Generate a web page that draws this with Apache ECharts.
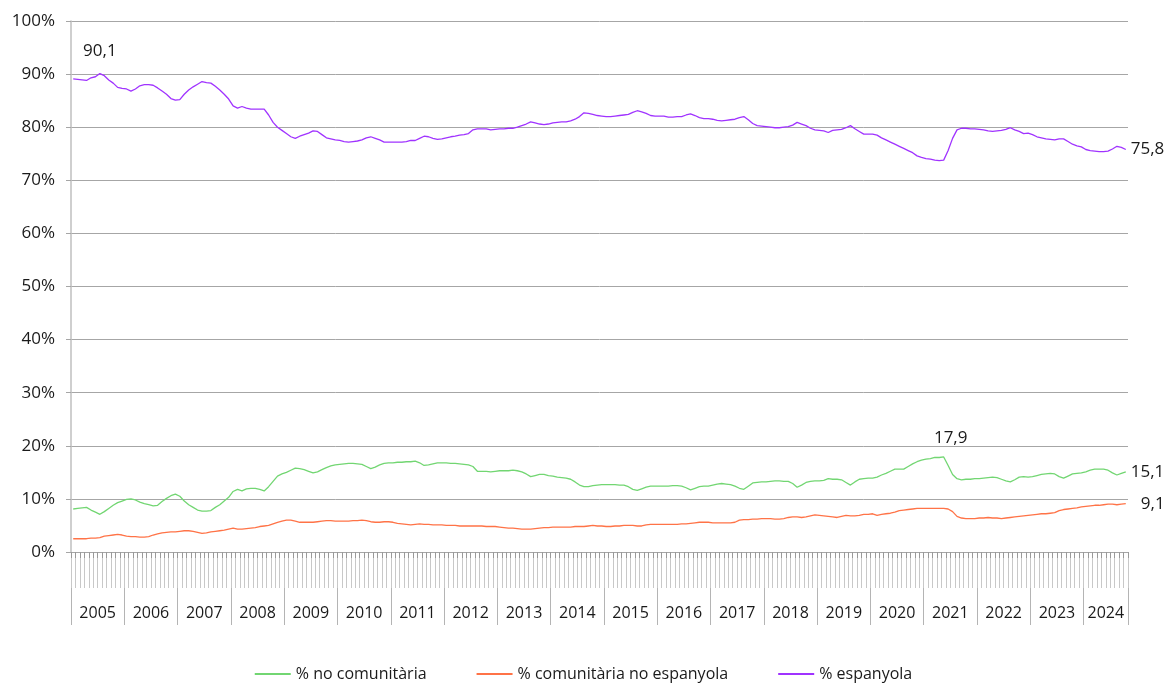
<!DOCTYPE html>
<html>
<head>
<meta charset="utf-8">
<script src="https://cdn.jsdelivr.net/npm/echarts@6/dist/echarts.min.js"></script>
<style>
  html, body { margin: 0; padding: 0; background: #fff; }
  #chart { width: 1167px; height: 684px; }
</style>
</head>
<body>
<div id="chart"></div>
<script>
// years on the axis and how many monthly points each one has
const years = ['2005', '2006', '2007', '2008', '2009', '2010', '2011', '2012', '2013', '2014',
               '2015', '2016', '2017', '2018', '2019', '2020', '2021', '2022', '2023', '2024'];
const monthsPerYear = [12, 12, 12, 12, 12, 12, 12, 12, 12, 12, 12, 12, 12, 12, 12, 12, 12, 12, 12, 10];

const yTicks = [0, 10, 20, 30, 40, 50, 60, 70, 80, 90, 100];

// % no comunitària
const noComunitaria = [
  8.1, 8.2, 8.3, 8.4, 7.9, 7.5, 7.1, 7.6, 8.2, 8.8, 9.3, 9.6,
  9.9, 10.0, 9.8, 9.4, 9.1, 8.9, 8.7, 8.8, 9.5, 10.1, 10.6, 10.9,
  10.5, 9.6, 8.9, 8.4, 7.9, 7.7, 7.7, 7.8, 8.4, 8.9, 9.6, 10.3,
  11.4, 11.8, 11.5, 11.9, 12.0, 12.0, 11.8, 11.5, 12.3, 13.3, 14.3, 14.7,
  15.0, 15.4, 15.8, 15.7, 15.5, 15.2, 14.9, 15.1, 15.5, 15.9, 16.2, 16.4,
  16.5, 16.6, 16.7, 16.7, 16.6, 16.5, 16.1, 15.7, 16.0, 16.4, 16.7, 16.8,
  16.8, 16.9, 16.9, 17.0, 17.0, 17.1, 16.8, 16.3, 16.4, 16.6, 16.8, 16.8,
  16.8, 16.7, 16.7, 16.6, 16.5, 16.4, 16.1, 15.2, 15.2, 15.2, 15.1, 15.2,
  15.3, 15.3, 15.3, 15.4, 15.3, 15.1, 14.7, 14.2, 14.4, 14.6, 14.6, 14.4,
  14.3, 14.1, 14.0, 13.9, 13.7, 13.2, 12.6, 12.3, 12.3, 12.5, 12.6, 12.7,
  12.7, 12.7, 12.7, 12.6, 12.6, 12.3, 11.8, 11.6, 11.9, 12.2, 12.4, 12.4,
  12.4, 12.4, 12.4, 12.5, 12.5, 12.4, 12.1, 11.7, 12.0, 12.3, 12.4, 12.4,
  12.6, 12.8, 12.9, 12.8, 12.7, 12.4, 12.0, 11.8, 12.4, 13.0, 13.1, 13.2,
  13.2, 13.3, 13.4, 13.4, 13.3, 13.3, 12.9, 12.2, 12.6, 13.1, 13.3, 13.4,
  13.4, 13.5, 13.8, 13.7, 13.7, 13.6, 13.1, 12.6, 13.2, 13.7, 13.8, 13.9,
  13.9, 14.1, 14.5, 14.8, 15.2, 15.6, 15.6, 15.6, 16.1, 16.6, 17.0, 17.3,
  17.5, 17.6, 17.8, 17.8, 17.9, 16.3, 14.6, 13.8, 13.6, 13.7, 13.7, 13.8,
  13.8, 13.9, 14.0, 14.1, 14.0, 13.7, 13.4, 13.2, 13.6, 14.1, 14.2, 14.1,
  14.2, 14.4, 14.6, 14.7, 14.8, 14.7, 14.2, 13.9, 14.3, 14.7, 14.8, 14.9,
  15.1, 15.4, 15.6, 15.6, 15.6, 15.4, 14.9, 14.5, 14.8, 15.1
];

// % comunitària no espanyola
const comunitaria = [
  2.5, 2.5, 2.5, 2.5, 2.6, 2.6, 2.7, 3.0, 3.1, 3.2, 3.3, 3.2,
  3.0, 2.9, 2.9, 2.8, 2.8, 2.9, 3.2, 3.4, 3.6, 3.7, 3.8, 3.8,
  3.9, 4.0, 4.0, 3.9, 3.7, 3.5, 3.6, 3.8, 3.9, 4.0, 4.1, 4.3,
  4.5, 4.3, 4.3, 4.4, 4.5, 4.6, 4.8, 4.9, 5.0, 5.3, 5.6, 5.8,
  6.0, 6.0, 5.8, 5.6, 5.6, 5.6, 5.6, 5.7, 5.8, 5.9, 5.9, 5.8,
  5.8, 5.8, 5.8, 5.9, 5.9, 6.0, 5.9, 5.7, 5.6, 5.6, 5.7, 5.7,
  5.6, 5.4, 5.3, 5.2, 5.1, 5.2, 5.3, 5.2, 5.2, 5.1, 5.1, 5.1,
  5.0, 5.0, 5.0, 4.9, 4.9, 4.9, 4.9, 4.9, 4.9, 4.8, 4.8, 4.8,
  4.7, 4.6, 4.5, 4.5, 4.4, 4.3, 4.3, 4.3, 4.4, 4.5, 4.6, 4.6,
  4.7, 4.7, 4.7, 4.7, 4.7, 4.8, 4.8, 4.8, 4.9, 5.0, 4.9, 4.9,
  4.8, 4.8, 4.9, 4.9, 5.0, 5.0, 5.0, 4.9, 4.9, 5.1, 5.2, 5.2,
  5.2, 5.2, 5.2, 5.2, 5.2, 5.3, 5.3, 5.4, 5.5, 5.6, 5.6, 5.6,
  5.5, 5.5, 5.5, 5.5, 5.5, 5.6, 6.0, 6.1, 6.1, 6.2, 6.2, 6.3,
  6.3, 6.3, 6.2, 6.2, 6.3, 6.5, 6.6, 6.6, 6.5, 6.6, 6.8, 7.0,
  6.9, 6.8, 6.7, 6.6, 6.5, 6.7, 6.9, 6.8, 6.8, 6.9, 7.1, 7.1,
  7.2, 6.9, 7.1, 7.2, 7.3, 7.5, 7.8, 7.9, 8.0, 8.1, 8.2, 8.2,
  8.2, 8.2, 8.2, 8.2, 8.2, 8.1, 7.6, 6.7, 6.4, 6.3, 6.3, 6.3,
  6.4, 6.4, 6.5, 6.4, 6.4, 6.3, 6.4, 6.5, 6.6, 6.7, 6.8, 6.9,
  7.0, 7.1, 7.2, 7.2, 7.3, 7.4, 7.8, 8.0, 8.1, 8.2, 8.3, 8.5,
  8.6, 8.7, 8.8, 8.8, 8.9, 9.0, 9.0, 8.9, 9.0, 9.1
];

// % espanyola
const espanyola = [
  89.1, 89.0, 88.9, 88.8, 89.3, 89.5, 90.1, 89.7, 88.9, 88.3, 87.5, 87.3,
  87.2, 86.8, 87.2, 87.8, 88.0, 88.0, 87.9, 87.4, 86.8, 86.2, 85.4, 85.1,
  85.2, 86.2, 87.0, 87.6, 88.1, 88.6, 88.4, 88.3, 87.7, 87.0, 86.2, 85.3,
  84.0, 83.6, 83.9, 83.6, 83.4, 83.4, 83.4, 83.4, 82.3, 80.9, 80.0, 79.4,
  78.8, 78.2, 77.9, 78.3, 78.6, 78.9, 79.3, 79.2, 78.6, 78.0, 77.8, 77.6,
  77.5, 77.3, 77.2, 77.3, 77.4, 77.6, 78.0, 78.2, 77.9, 77.6, 77.2, 77.2,
  77.2, 77.2, 77.2, 77.3, 77.5, 77.5, 77.9, 78.3, 78.2, 77.9, 77.7, 77.8,
  78.0, 78.2, 78.3, 78.5, 78.6, 78.8, 79.5, 79.7, 79.7, 79.7, 79.5, 79.6,
  79.7, 79.7, 79.8, 79.8, 80.0, 80.3, 80.6, 81.0, 80.8, 80.6, 80.5, 80.6,
  80.8, 80.9, 81.0, 81.0, 81.2, 81.5, 82.0, 82.7, 82.6, 82.4, 82.2, 82.1,
  82.0, 82.0, 82.1, 82.2, 82.3, 82.4, 82.8, 83.1, 82.9, 82.6, 82.2, 82.1,
  82.1, 82.1, 81.9, 81.9, 82.0, 82.0, 82.3, 82.5, 82.2, 81.8, 81.6, 81.6,
  81.5, 81.3, 81.2, 81.3, 81.4, 81.5, 81.8, 82.0, 81.4, 80.7, 80.3, 80.2,
  80.1, 80.0, 79.9, 79.9, 80.0, 80.1, 80.4, 80.9, 80.6, 80.3, 79.8, 79.5,
  79.4, 79.3, 79.0, 79.4, 79.5, 79.6, 79.9, 80.3, 79.7, 79.2, 78.7, 78.7,
  78.7, 78.5, 78.0, 77.6, 77.2, 76.8, 76.4, 76.0, 75.6, 75.2, 74.6, 74.3,
  74.1, 74.0, 73.8, 73.7, 73.8, 75.6, 77.9, 79.5, 79.8, 79.8, 79.7, 79.7,
  79.6, 79.5, 79.3, 79.2, 79.3, 79.4, 79.6, 79.9, 79.5, 79.2, 78.8, 78.9,
  78.6, 78.2, 78.0, 77.8, 77.7, 77.6, 77.8, 77.8, 77.3, 76.8, 76.5, 76.3,
  75.8, 75.6, 75.5, 75.4, 75.4, 75.5, 75.9, 76.4, 76.2, 75.8
];

// --------------------------------------------------------
// month categories + where each year starts / gets its label
const months = [];
const yearStart = {};
const yearLabelAt = {};
years.forEach((y, k) => {
  const start = months.length;
  yearStart[start] = true;
  yearLabelAt[start + Math.floor(monthsPerYear[k] / 2)] = y;
  for (let m = 1; m <= monthsPerYear[k]; m++) {
    months.push(y + '-' + (m < 10 ? '0' + m : m));
  }
});

function fmt(v) {
  return v.toFixed(1).replace('.', ',');
}

// attach a value label to a few chosen points
function withLabels(values, picks) {
  return values.map((v, i) => {
    if (!picks[i]) return v;
    return { value: v, label: Object.assign({ show: true, formatter: fmt(v) }, picks[i]) };
  });
}

const last = months.length - 1;
const labelFont = { fontSize: 17, color: '#1a1a1a', fontFamily: 'Open Sans' };

// tiny invisible symbols so the point labels get drawn
const lineBase = {
  type: 'line',
  xAxisIndex: 0,
  symbol: 'circle',
  symbolSize: 0.01,
  showSymbol: true,
  showAllSymbol: true,
  label: { show: false },
  emphasis: { disabled: true }
};

var chartDom = document.getElementById('chart');
var myChart = echarts.init(chartDom);
var option;

option = {
  animation: false,
  textStyle: { fontFamily: 'Open Sans' },
  grid: { left: 71, right: 39, top: 21, bottom: 132 },
  legend: {
    top: 661,
    left: 'center',
    icon: 'rect',
    itemWidth: 36,
    itemHeight: 2,
    itemGap: 50,
    textStyle: { fontSize: 16, color: '#1a1a1a', fontFamily: 'Open Sans' },
    data: ['% no comunitària', '% comunitària no espanyola', '% espanyola']
  },
  xAxis: [
    {
      type: 'category',
      data: months,
      position: 'bottom',
      boundaryGap: true,
      axisLine: { lineStyle: { color: '#a6a6a6', width: 1 } },
      axisTick: { show: true, interval: 0, length: 36, lineStyle: { color: '#c8c8c8' } },
      axisLabel: { show: false },
      splitLine: { show: false }
    },
    {
      // short darker ticks right under the axis line
      type: 'category',
      data: months,
      position: 'bottom',
      boundaryGap: true,
      axisLine: { show: false },
      axisTick: { show: true, interval: 0, length: 6, lineStyle: { color: '#9a9a9a' } },
      axisLabel: { show: false },
      splitLine: { show: false }
    },
    {
      // year level of the axis
      type: 'category',
      data: months,
      boundaryGap: true,
      position: 'bottom',
      offset: 36,
      axisLine: { show: false },
      axisTick: {
        show: true,
        length: 37,
        interval: (i) => !!yearStart[i],
        lineStyle: { color: '#b4b4b4' }
      },
      axisLabel: {
        show: true,
        interval: (i) => !!yearLabelAt[i],
        formatter: (v, i) => yearLabelAt[i] || '',
        margin: 17,
        padding: [0, 4.4, 0, 0],
        fontSize: 16,
        color: '#1a1a1a',
        fontFamily: 'Open Sans'
      },
      splitLine: { show: false }
    }
  ],
  yAxis: {
    type: 'value',
    min: yTicks[0],
    max: yTicks[yTicks.length - 1],
    interval: 10,
    axisLine: { show: true, lineStyle: { color: '#bfbfbf', width: 1.5 } },
    axisTick: { show: true, length: 5, lineStyle: { color: '#a6a6a6' } },
    axisLabel: {
      formatter: '{value}%',
      fontSize: 17,
      color: '#1a1a1a',
      margin: 16,
      fontFamily: 'Open Sans'
    },
    splitLine: { show: true, lineStyle: { color: '#a6a6a6', width: 1 } }
  },
  series: [
    Object.assign({}, lineBase, {
      name: '% no comunitària',
      lineStyle: { color: '#72d672', width: 1.3 },
      itemStyle: { color: '#72d672' },
      data: withLabels(noComunitaria, {
        196: Object.assign({ position: 'top', distance: 10, offset: [7, 0] }, labelFont),
        [last]: Object.assign({ position: 'right', distance: 5 }, labelFont)
      })
    }),
    Object.assign({}, lineBase, {
      name: '% comunitària no espanyola',
      lineStyle: { color: '#ff7347', width: 1.3 },
      itemStyle: { color: '#ff7347' },
      data: withLabels(comunitaria, {
        [last]: Object.assign({ position: 'right', distance: 5, offset: [10, 0] }, labelFont)
      })
    }),
    Object.assign({}, lineBase, {
      name: '% espanyola',
      lineStyle: { color: '#a033ff', width: 1.3 },
      itemStyle: { color: '#a033ff' },
      data: withLabels(espanyola, {
        6: Object.assign({ position: 'top', distance: 14 }, labelFont),
        [last]: Object.assign({ position: 'right', distance: 5 }, labelFont)
      })
    })
  ]
};

option && myChart.setOption(option);
</script>
</body>
</html>
